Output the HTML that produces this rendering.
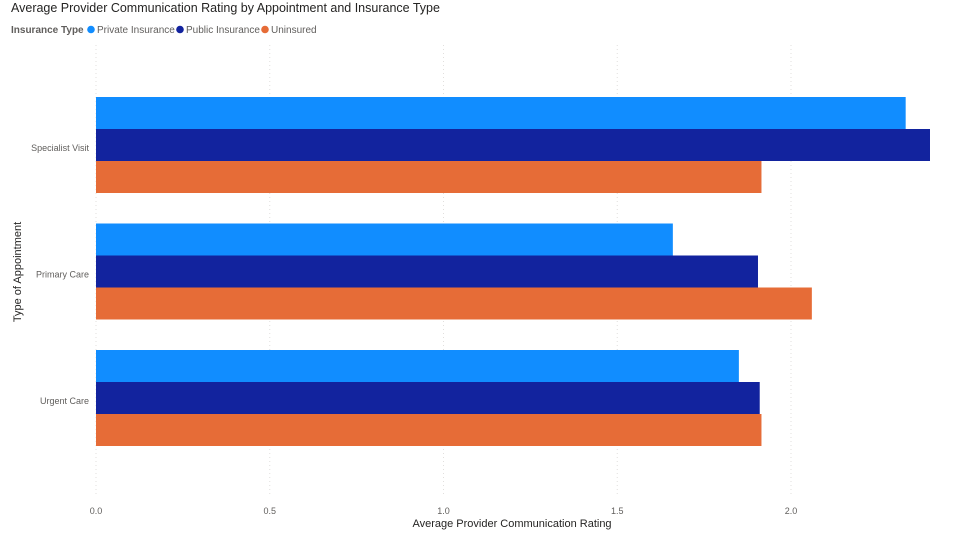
<!DOCTYPE html>
<html><head><meta charset="utf-8"><style>
body{margin:0;background:#fff;font-family:"Liberation Sans",sans-serif}
svg{display:block}
</style></head><body>
<svg id="chart" width="956" height="546">
<text x="11" y="12" font-size="12.5" fill="#252423">Average Provider Communication Rating by Appointment and Insurance Type</text>
<g font-size="10">
<text x="11" y="33" font-weight="bold" fill="#605e5c">Insurance Type</text>
<g><circle cx="91" cy="29.5" r="3.8" fill="#118dff"/><text x="97" y="33" fill="#605e5c">Private Insurance</text></g>
<g><circle cx="180" cy="29.5" r="3.8" fill="#12239e"/><text x="186" y="33" fill="#605e5c">Public Insurance</text></g>
<g><circle cx="265" cy="29.5" r="3.8" fill="#e66c37"/><text x="271" y="33" fill="#605e5c">Uninsured</text></g>
</g>
<g id="grid"></g><g id="bars"></g><g id="axes" font-size="9" fill="#605e5c"></g>
<text x="512" y="527" font-size="11" text-anchor="middle" fill="#252423">Average Provider Communication Rating</text>
<text transform="translate(21,272) rotate(-90)" font-size="11" text-anchor="middle" fill="#252423">Type of Appointment</text>
</svg>
<script>
const categories=["Specialist Visit","Primary Care","Urgent Care"];
const seriesNames=["Private Insurance","Public Insurance","Uninsured"];
const privateVals=[2.33,1.66,1.85];
const publicVals=[2.40,1.905,1.91];
const uninsuredVals=[1.915,2.06,1.915];
const xTicks=[0,0.5,1.0,1.5,2.0];
const tickLabels=["0.0","0.5","1.0","1.5","2.0"];
const colors=["#118dff","#12239e","#e66c37"];
const ns="http://www.w3.org/2000/svg";
const x=v=>96+v*347.5;
const bandTop=i=>97+i*126.5;
const barH=32;
function mk(t,a,p){const e=document.createElementNS(ns,t);for(const k in a)e.setAttribute(k,a[k]);p.appendChild(e);return e;}
const grid=document.getElementById('grid'),bars=document.getElementById('bars'),axes=document.getElementById('axes');
xTicks.forEach((v,i)=>{
 const l=mk('line',{x1:x(v),x2:x(v),y1:45,y2:495,stroke:'#e1dfdd','stroke-dasharray':'1,3'},grid);
 
 
 const t=mk('text',{x:x(v),y:514,'text-anchor':'middle'},axes);t.textContent=tickLabels[i];
 
 
});
const all=[privateVals,publicVals,uninsuredVals];
categories.forEach((c,i)=>{
 const t=mk('text',{x:89,y:bandTop(i)+barH*1.5+6,'text-anchor':'end'},axes);t.textContent=c;
 
 
 all.forEach((s,j)=>{
  const r=mk('rect',{x:x(0),y:bandTop(i)+j*barH,width:x(s[i])-x(0),height:barH,fill:colors[j]},bars);
  
  
 });
});
</script>
</body></html>
